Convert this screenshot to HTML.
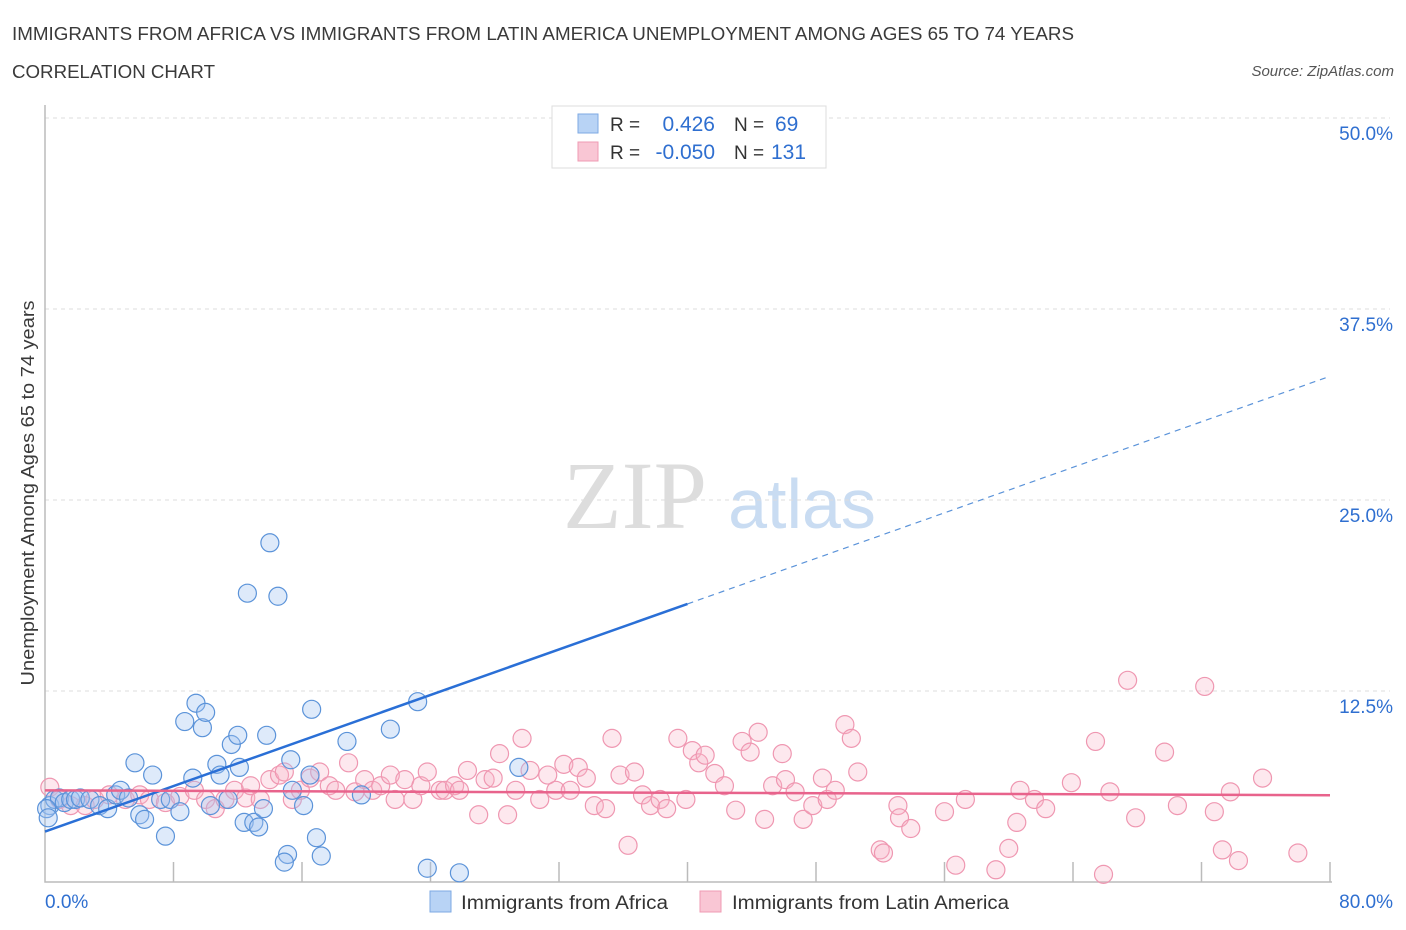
<!DOCTYPE html>
<html><head><meta charset="utf-8">
<style>
body{margin:0;background:#fff;font-family:"Liberation Sans",sans-serif;}
svg{display:block}
</style></head>
<body>
<svg id="chart" width="1406" height="930">
<text x="12" y="40" font-size="18" fill="#3a3a3a" textLength="1062" lengthAdjust="spacingAndGlyphs">IMMIGRANTS FROM AFRICA VS IMMIGRANTS FROM LATIN AMERICA UNEMPLOYMENT AMONG AGES 65 TO 74 YEARS</text>
<text x="12" y="78" font-size="18" fill="#3a3a3a" textLength="203" lengthAdjust="spacingAndGlyphs">CORRELATION CHART</text>
<text x="1394" y="76" font-size="15" fill="#555" font-style="italic" text-anchor="end">Source: ZipAtlas.com</text>
<text x="635" y="528" font-size="96" fill="#ddd" font-family="Liberation Serif,serif" text-anchor="middle">ZIP</text>
<text x="802" y="528" font-size="70" fill="#c9dcf2" text-anchor="middle">atlas</text>
<g id="grid"></g>
<g id="marks"></g>
<g id="lines"></g>
<text transform="translate(34,493) rotate(-90)" font-size="18" fill="#3a3a3a" text-anchor="middle" textLength="385" lengthAdjust="spacingAndGlyphs">Unemployment Among Ages 65 to 74 years</text>
<g>
<rect x="552" y="106" width="274" height="62" fill="#fff" stroke="#ddd"/>
<rect x="578" y="114" width="20" height="19" fill="#b8d3f5" stroke="#7eaae3"/>
<rect x="578" y="142" width="20" height="19" fill="#f9c6d4" stroke="#ef9bb3"/>
<text x="610" y="131" font-size="19" fill="#333">R =</text>
<text x="715" y="131" font-size="21" fill="#2f6fd0" text-anchor="end">0.426</text>
<text x="734" y="131" font-size="19" fill="#333">N =</text>
<text x="775" y="131" font-size="21" fill="#2f6fd0">69</text>
<text x="610" y="159" font-size="19" fill="#333">R =</text>
<text x="715" y="159" font-size="21" fill="#2f6fd0" text-anchor="end">-0.050</text>
<text x="734" y="159" font-size="19" fill="#333">N =</text>
<text x="771" y="159" font-size="21" fill="#2f6fd0">131</text>
</g>
<g>
<rect x="430" y="891" width="21" height="21" fill="#b8d3f5" stroke="#7eaae3"/>
<text x="461" y="909" font-size="19" fill="#333" textLength="207" lengthAdjust="spacingAndGlyphs">Immigrants from Africa</text>
<rect x="700" y="891" width="21" height="21" fill="#f9c6d4" stroke="#ef9bb3"/>
<text x="732" y="909" font-size="19" fill="#333" textLength="277" lengthAdjust="spacingAndGlyphs">Immigrants from Latin America</text>
</g>
</svg>
<script>
const yTicks=[12.5,25,37.5,50];
const yTickLabels=["12.5%","25.0%","37.5%","50.0%"];
const xTickVals=[0,8,16,24,32,40,48,56,64,72,80];
const xEndLabels=["0.0%","80.0%"];
const africaX=[0.3,0.6,0.9,1.2,1.6,1.9,2.2,2.8,3.4,3.9,4.4,4.7,5.2,5.6,5.9,6.2,6.7,7.2,7.5,7.8,8.4,8.7,9.2,9.4,9.8,10.0,10.3,10.7,10.9,11.4,11.6,12.0,12.1,12.4,13.0,13.3,13.6,13.8,14.0,12.6,14.5,15.3,15.1,14.9,15.4,16.1,16.6,16.5,16.9,17.2,18.8,19.7,21.5,23.2,23.8,25.8,29.5,36.2,0.1,0.2];
const africaY=[5.0,5.4,5.5,5.2,5.4,5.4,5.5,5.4,5.0,4.8,5.7,6.0,5.5,7.8,4.4,4.1,7.0,5.4,3.0,5.4,4.6,10.5,6.8,11.7,10.1,11.1,5.0,7.7,7.0,5.4,9.0,9.6,7.5,3.9,3.9,3.6,4.8,9.6,22.2,18.9,18.7,8.0,1.8,1.3,6.0,5.0,11.3,7.0,2.9,1.7,9.2,5.7,10.0,11.8,0.9,0.6,7.5,48.7,4.8,4.2];
const latamX=[0.3,0.9,1.6,2.5,3.1,4.0,5.0,5.9,6.5,7.5,8.4,9.3,10.0,10.6,11.2,11.8,12.5,12.8,13.4,14.0,14.6,14.9,15.4,15.9,16.5,17.1,17.7,18.1,18.9,19.3,19.9,20.4,20.9,21.5,21.8,22.4,22.9,23.4,23.8,24.6,24.9,25.5,25.8,26.3,27.0,27.4,27.9,28.3,28.8,29.3,29.7,30.2,30.8,31.3,31.8,32.3,32.7,33.2,33.7,34.2,34.9,35.3,35.8,36.3,36.7,37.2,37.7,38.3,38.7,39.4,39.9,40.3,40.7,41.1,41.7,42.3,43.0,43.4,43.9,44.4,44.8,45.3,45.9,46.1,46.7,47.2,47.8,48.4,48.7,49.2,49.8,50.2,50.6,52.0,52.2,53.1,53.2,53.9,56.0,56.7,57.3,59.2,60.0,60.5,60.7,61.6,62.3,63.9,65.4,65.9,66.3,67.9,67.4,69.7,70.5,72.2,72.8,73.3,73.8,74.3,75.8,78.0];
const latamY=[6.2,5.4,5.0,5.0,5.4,5.7,5.4,5.7,5.4,5.2,5.6,6.0,5.4,4.8,5.4,6.0,5.5,6.3,5.4,6.7,7.0,7.2,5.4,6.0,6.8,7.2,6.3,6.0,7.8,5.9,6.7,6.0,6.3,7.0,5.4,6.7,5.4,6.3,7.2,6.0,6.0,6.3,6.0,7.3,4.4,6.7,6.8,8.4,4.4,6.0,9.4,7.3,5.4,7.0,6.0,7.7,6.0,7.5,6.8,5.0,4.8,9.4,7.0,2.4,7.2,5.7,5.0,5.4,4.8,9.4,5.4,8.6,7.8,8.3,7.1,6.3,4.7,9.2,8.5,9.8,4.1,6.3,8.4,6.7,5.9,4.1,5.0,6.8,5.4,6.0,10.3,9.4,7.2,2.1,1.9,5.0,4.2,3.5,4.6,1.1,5.4,0.8,2.2,3.9,6.0,5.4,4.8,6.5,9.2,0.5,5.9,4.2,13.2,8.5,5.0,12.8,4.6,2.1,5.9,1.4,6.8,1.9];
const africaFit=[3.3,0.3725];   // intercept, slope
const latamFit=[6.0,-0.004];
const NS="http://www.w3.org/2000/svg";
const X0=45,X1=1330,Y0=882,Y50=118;
function sx(v){return X0+(X1-X0)*v/80;}
function sy(v){return Y0-(Y0-Y50)*v/50;}
function mk(t,a,p){const e=document.createElementNS(NS,t);for(const k in a)e.setAttribute(k,a[k]);p.appendChild(e);return e;}
const grid=document.getElementById('grid'),marks=document.getElementById('marks'),lines=document.getElementById('lines');
yTicks.forEach((v,i)=>{
  const l=mk('line',{x1:X0,x2:1390,y1:sy(v),y2:sy(v),stroke:'#ddd','stroke-dasharray':'4,4'},grid);
  
  
  const t=mk('text',{x:1393,y:sy(v)+22,'font-size':19,fill:'#2f6fd0','text-anchor':'end'},grid);
  t.textContent=yTickLabels[i];
  
  
});
const ax=mk('path',{d:`M${X0},105V${Y0}H${X1+2}`,stroke:'#bbb',fill:'none','stroke-width':1.5},grid);


xTickVals.forEach((v,i)=>{if(i===0)return;
  const l=mk('line',{x1:sx(v),x2:sx(v),y1:862,y2:Y0,stroke:'#bbb','stroke-width':1.5},grid);
  
  
});
[[0,'start',45],[80,'end',1393]].forEach((d,i)=>{
  const t=mk('text',{x:d[2],y:908,'font-size':19,fill:'#2f6fd0','text-anchor':d[1]},grid);
  t.textContent=xEndLabels[i];
  
  
});
latamX.forEach((x,i)=>{
  const c=mk('circle',{cx:sx(x),cy:sy(latamY[i]),r:9,fill:'rgba(248,180,200,0.3)',stroke:'#ef97b1','stroke-width':1.2},marks);
  
  
});
africaX.forEach((x,i)=>{
  const c=mk('circle',{cx:sx(x),cy:sy(africaY[i]),r:9,fill:'rgba(160,196,240,0.35)',stroke:'#5b93d9','stroke-width':1.2},marks);
  
  
});
function fy(f,x){return f[0]+f[1]*x;}
let l=mk('line',{x1:sx(0),y1:sy(fy(africaFit,0)),x2:sx(40),y2:sy(fy(africaFit,40)),stroke:'#2a6fd6','stroke-width':2.5},lines);


l=mk('line',{x1:sx(40),y1:sy(fy(africaFit,40)),x2:sx(80),y2:sy(fy(africaFit,80)),stroke:'#5b93d9','stroke-width':1.2,'stroke-dasharray':'6,5'},lines);


l=mk('line',{x1:sx(0),y1:sy(fy(latamFit,0)),x2:sx(80),y2:sy(fy(latamFit,80)),stroke:'#e8638c','stroke-width':2.5},lines);


</script>
</body></html>
